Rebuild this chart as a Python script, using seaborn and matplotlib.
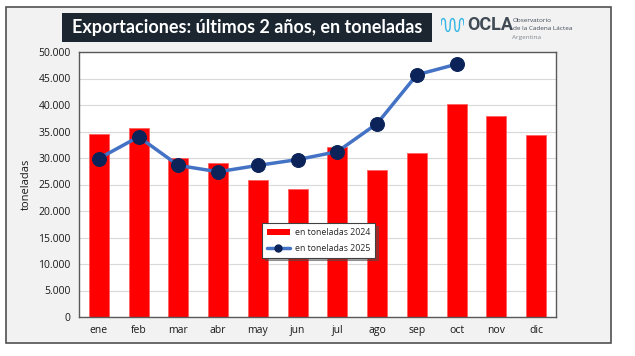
import numpy as np
import pandas as pd
import seaborn as sns
import matplotlib.pyplot as plt
from matplotlib.patches import Rectangle
from matplotlib.lines import Line2D

meses = ['ene', 'feb', 'mar', 'abr', 'may', 'jun', 'jul', 'ago', 'sep', 'oct', 'nov', 'dic']
ton_2024 = [34600, 35600, 30000, 29100, 25900, 24200, 32000, 27800, 31000, 40200, 38000, 34400]
ton_2025 = [29900, 34000, 28600, 27400, 28600, 29700, 31200, 36500, 45700, 47700]
yticks = list(range(0, 50001, 5000))
ytick_labels = ['0' if v == 0 else f'{v:,}'.replace(',', '.') for v in yticks]

sns.set_theme(style='white')
plt.rcParams['font.family'] = ['Open Sans', 'DejaVu Sans']

fig = plt.figure(figsize=(6.35, 3.56), dpi=100)
fig.patch.set_facecolor('white')
W, H = 635, 356

# outer frame
fig.patches.append(Rectangle((6 / W, 1 - 343 / H), 605 / W, 336 / H, transform=fig.transFigure,
                             facecolor='#f2f2f2', edgecolor='#505050', lw=1.2, zorder=-5))

ax = fig.add_axes([79 / W, 1 - 317 / H, 477 / W, 265 / H])
ax.set_facecolor('white')

df24 = pd.DataFrame({'mes': meses, 'ton': ton_2024})
df25 = pd.DataFrame({'mes': meses[:len(ton_2025)], 'ton': ton_2025})

sns.barplot(data=df24, x='mes', y='ton', color='#ff0000', width=0.5, saturation=1,
            edgecolor='#ff6060', linewidth=0.6, ax=ax, zorder=2)
sns.lineplot(data=df25, x='mes', y='ton', color='#4472c4', linewidth=2.5, marker='o',
             markersize=10, markerfacecolor='#0b2358', markeredgecolor='#0b2358',
             sort=False, ax=ax, zorder=3)

ax.set_xlim(-0.5, 11.5)
ax.set_ylim(0, 50000)
ax.set_yticks(yticks)
ax.set_yticklabels(ytick_labels, fontsize=7.5, color='#1a1a1a')
ax.tick_params(axis='x', labelsize=7.5, pad=6, length=0, colors='#1a1a1a')
ax.tick_params(axis='y', length=0, pad=6)
ax.yaxis.grid(True, color='#d9d9d9', lw=0.8)
ax.set_axisbelow(True)
ax.set_xlabel('')
ax.set_ylabel('toneladas', fontsize=8, labelpad=5, color='#1a1a1a')
for s in ax.spines.values():
    s.set_color('#595959')
    s.set_linewidth(1)

handles = [Rectangle((0, 0), 1, 1, facecolor='#ff0000', edgecolor='none'),
           Line2D([0], [0], color='#4472c4', lw=2.5, marker='o', markersize=5,
                  markerfacecolor='#0b2358', markeredgecolor='#0b2358')]
leg = ax.legend(handles, ['en toneladas 2024', 'en toneladas 2025'], loc='upper left',
                bbox_to_anchor=((262 - 79) / 477, (317 - 223) / 265), fontsize=6.3,
                frameon=True, fancybox=False, shadow=True, handlelength=2.6,
                handletextpad=0.6, borderpad=0.55, labelspacing=0.8, borderaxespad=0)
leg.get_frame().set_edgecolor('#404040')
leg.get_frame().set_linewidth(0.8)

# title box
fig.patches.append(Rectangle((62 / W, 1 - 42 / H), 370 / W, 29 / H, transform=fig.transFigure,
                             facecolor='#1b2631', edgecolor='none', zorder=1))
fig.text(247 / W, 1 - 28 / H, 'Exportaciones: últimos 2 años, en toneladas', ha='center', va='center',
         fontsize=13, color='white', fontweight='bold', family=['Lato', 'DejaVu Sans'], zorder=2)

# OCLA logo
lax = fig.add_axes([441 / W, 1 - 33 / H, 23 / W, 16 / H])
t = np.linspace(0, 1, 80)
lax.plot(t, 0.5 + 0.4 * np.sign(np.sin(t * 5 * np.pi)) * np.abs(np.sin(t * 5 * np.pi)) ** 0.3,
         color='#33b5e5', lw=1)
lax.set_xlim(0, 1)
lax.set_ylim(0, 1)
lax.axis('off')
fig.text(467 / W, 1 - 25 / H, 'OCLA', ha='left', va='center', fontsize=13,
         color='#404a55', fontweight='bold', family=['Roboto', 'DejaVu Sans'])
fig.text(513 / W, 1 - 21 / H, 'Observatorio', ha='left', va='center', fontsize=4.6, color='#404a55')
fig.text(513 / W, 1 - 29 / H, 'de la Cadena Láctea', ha='left', va='center', fontsize=4.6, color='#404a55')
fig.text(512 / W, 1 - 38 / H, 'Argentina', ha='left', va='center', fontsize=4.6, color='#808890')

fig.savefig('out.png', dpi=100)
